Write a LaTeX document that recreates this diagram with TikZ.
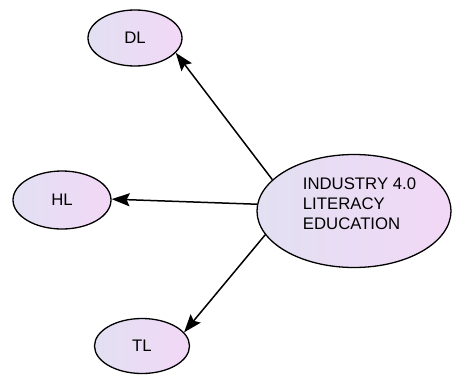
\documentclass[tikz,border=0pt]{standalone}
\usepackage{amsmath}
\usepackage{fontspec}
\setmainfont{Liberation Sans}
\usetikzlibrary{shapes.geometric,arrows.meta}

\definecolor{lavleft}{RGB}{226,224,242}
\definecolor{lavright}{RGB}{242,216,246}

\begin{document}
\begin{tikzpicture}[x=1bp,y=1bp,
    litnode/.style={ellipse,draw=black,line width=1.3bp,left color=lavleft,right color=lavright,
      inner sep=0pt,font=\fontsize{16.8}{20}\selectfont},
    link/.style={line width=1.5bp,-{Stealth[length=18bp,width=13bp,inset=3bp]}}]
  \useasboundingbox (0,0) rectangle (455,377);
  \node[litnode,minimum width=194bp,minimum height=113bp,align=left] (edu) at (354,166)
    {\hspace*{11bp}INDUSTRY 4.0\\\hspace*{11bp}LITERACY\\\hspace*{11bp}EDUCATION\\[-6bp]};
  \node[litnode,minimum width=94bp,minimum height=56bp] (dl) at (135,339) {DL};
  \node[litnode,minimum width=98bp,minimum height=58bp] (hl) at (62,177) {HL};
  \node[litnode,minimum width=95bp,minimum height=55bp] (tl) at (142,31) {TL};
  \path[link]
    (edu.159) edge (dl.-20)
    (edu.176) edge (hl.1)
    (edu.195) edge (tl.18)
    ;
\end{tikzpicture}
\end{document}
